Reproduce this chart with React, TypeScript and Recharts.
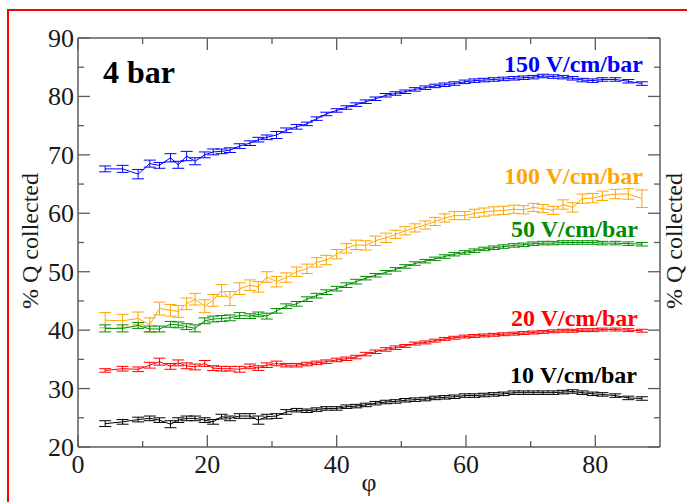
import React from 'react';
import { ComposedChart, Line, XAxis, YAxis, ErrorBar } from 'recharts';

// φ positions of the measurements
const PHI = [4.2, 6.9, 9.3, 11.1, 12.6, 14.3, 15.5, 16.8, 18.1, 19.6, 20.9, 22.2, 23.5, 25.0, 26.6, 27.9, 29.2, 30.7, 32.2, 33.8, 35.4, 36.9, 38.4, 40.0, 41.5, 43.0, 44.5, 46.0, 47.6, 49.1, 50.6, 52.1, 53.7, 55.2, 56.7, 58.2, 59.8, 61.3, 62.8, 64.3, 65.8, 67.4, 68.9, 70.4, 71.9, 73.5, 75.0, 76.5, 78.0, 79.6, 81.1, 83.1, 85.1, 87.2];

// 150 V/cm/bar
const Q150 = [67.6, 67.6, 66.7, 68.5, 68.2, 69.5, 68.3, 69.8, 68.9, 70.0, 70.5, 70.6, 70.8, 71.5, 72.0, 72.6, 73.0, 73.4, 74.2, 74.8, 75.3, 76.2, 77.0, 77.6, 78.1, 78.6, 79.1, 79.6, 80.2, 80.5, 80.8, 81.2, 81.5, 81.8, 82.0, 82.2, 82.5, 82.7, 82.8, 82.9, 83.0, 83.1, 83.2, 83.3, 83.5, 83.4, 83.3, 83.1, 82.8, 82.7, 82.9, 82.9, 82.6, 82.2];
const E150 = [0.5, 0.6, 0.8, 0.6, 0.5, 0.7, 0.6, 0.8, 0.6, 0.5, 0.5, 0.4, 0.4, 0.4, 0.4, 0.4, 0.4, 0.6, 0.4, 0.4, 0.3, 0.3, 0.3, 0.3, 0.3, 0.3, 0.3, 0.3, 0.3, 0.3, 0.3, 0.3, 0.3, 0.3, 0.3, 0.3, 0.3, 0.3, 0.3, 0.3, 0.3, 0.3, 0.3, 0.3, 0.3, 0.3, 0.3, 0.3, 0.3, 0.3, 0.3, 0.3, 0.3, 0.3];

// 100 V/cm/bar
const Q100 = [41.7, 41.6, 42.0, 40.9, 43.7, 43.4, 43.2, 44.5, 45.3, 44.1, 45.1, 46.8, 45.4, 47.1, 47.7, 47.4, 49.1, 48.3, 49.0, 50.0, 50.5, 51.6, 52.0, 53.0, 54.0, 54.6, 54.5, 55.3, 55.8, 56.4, 57.0, 57.5, 58.0, 58.6, 59.2, 59.6, 59.6, 60.0, 60.2, 60.4, 60.5, 60.7, 60.6, 61.0, 60.8, 60.5, 61.5, 61.0, 62.5, 62.6, 63.0, 63.3, 63.3, 62.5];
const E100 = [1.3, 1.1, 1.1, 1.2, 1.1, 1.0, 1.0, 1.0, 1.0, 1.1, 1.0, 1.0, 1.2, 1.0, 0.9, 0.9, 0.9, 0.9, 0.8, 0.8, 0.8, 0.8, 0.8, 0.8, 0.8, 0.8, 0.8, 0.8, 0.8, 0.7, 0.7, 0.7, 0.7, 0.7, 0.7, 0.7, 0.7, 0.7, 0.7, 0.7, 0.7, 0.7, 0.7, 0.7, 0.7, 0.7, 0.8, 0.8, 0.8, 0.8, 0.8, 0.8, 0.9, 1.5];

// 50 V/cm/bar
const Q50 = [40.3, 40.3, 40.8, 40.2, 40.2, 41.0, 40.9, 40.6, 40.3, 41.6, 41.9, 42.0, 42.1, 42.5, 42.4, 42.7, 42.4, 43.3, 44.1, 44.5, 45.3, 45.9, 46.5, 47.1, 47.7, 48.3, 48.9, 49.4, 49.9, 50.4, 50.9, 51.4, 51.8, 52.2, 52.6, 53.0, 53.3, 53.6, 53.9, 54.1, 54.3, 54.5, 54.6, 54.8, 54.9, 54.9, 55.0, 55.0, 55.0, 55.0, 54.9, 54.9, 54.8, 54.7];
const E50 = [0.6, 0.6, 0.5, 0.5, 0.5, 0.5, 0.5, 0.5, 0.6, 0.5, 0.5, 0.5, 0.5, 0.5, 0.4, 0.4, 0.5, 0.4, 0.4, 0.4, 0.4, 0.4, 0.4, 0.4, 0.4, 0.4, 0.3, 0.3, 0.3, 0.3, 0.3, 0.3, 0.3, 0.3, 0.3, 0.3, 0.3, 0.3, 0.3, 0.3, 0.3, 0.3, 0.3, 0.3, 0.3, 0.3, 0.3, 0.3, 0.3, 0.3, 0.3, 0.3, 0.3, 0.3];

// 20 V/cm/bar
const Q20 = [33.1, 33.4, 33.3, 34.0, 34.6, 33.8, 34.4, 33.9, 33.7, 34.3, 33.5, 33.4, 33.4, 33.3, 33.8, 33.5, 34.0, 34.3, 34.0, 34.0, 34.2, 34.4, 34.6, 34.9, 35.1, 35.4, 35.9, 36.3, 36.7, 37.0, 37.3, 37.7, 37.9, 38.2, 38.5, 38.7, 38.9, 39.0, 39.1, 39.2, 39.3, 39.4, 39.5, 39.6, 39.7, 39.8, 39.9, 39.9, 40.0, 40.0, 40.1, 40.1, 40.0, 39.9];
const E20 = [0.3, 0.4, 0.4, 0.5, 0.6, 0.5, 0.5, 0.5, 0.5, 0.5, 0.4, 0.4, 0.4, 0.5, 0.4, 0.4, 0.4, 0.4, 0.3, 0.3, 0.3, 0.3, 0.3, 0.3, 0.3, 0.3, 0.3, 0.3, 0.3, 0.3, 0.25, 0.25, 0.25, 0.25, 0.25, 0.25, 0.25, 0.25, 0.25, 0.25, 0.25, 0.25, 0.25, 0.25, 0.25, 0.25, 0.25, 0.25, 0.25, 0.25, 0.25, 0.25, 0.25, 0.25];

// 10 V/cm/bar
const Q10 = [24.0, 24.3, 24.7, 24.9, 24.6, 23.9, 24.6, 24.9, 24.9, 24.6, 24.3, 25.2, 24.9, 25.3, 25.3, 24.6, 25.2, 25.3, 26.0, 26.3, 26.2, 26.4, 26.6, 26.6, 26.9, 27.0, 27.2, 27.5, 27.7, 27.8, 28.0, 28.1, 28.2, 28.4, 28.5, 28.6, 28.8, 28.8, 28.9, 29.0, 29.1, 29.3, 29.3, 29.3, 29.3, 29.3, 29.4, 29.5, 29.3, 29.1, 29.0, 28.8, 28.4, 28.3];
const E10 = [0.5, 0.4, 0.4, 0.4, 0.4, 0.6, 0.4, 0.4, 0.4, 0.4, 0.4, 0.4, 0.4, 0.4, 0.4, 0.7, 0.4, 0.4, 0.4, 0.3, 0.3, 0.3, 0.3, 0.3, 0.3, 0.3, 0.3, 0.3, 0.3, 0.3, 0.3, 0.3, 0.3, 0.3, 0.3, 0.3, 0.3, 0.3, 0.3, 0.3, 0.3, 0.3, 0.3, 0.3, 0.3, 0.3, 0.3, 0.3, 0.3, 0.3, 0.3, 0.3, 0.3, 0.3];

const X_TICKS = [0, 10, 20, 30, 40, 50, 60, 70, 80];
const Y_TICKS = [20, 25, 30, 35, 40, 45, 50, 55, 60, 65, 70, 75, 80, 85, 90];

const SERIES = [
  { key: 'q150', err: 'e150', color: '#0000ff', label: '150 V/cm/bar' },
  { key: 'q100', err: 'e100', color: '#ffa500', label: '100 V/cm/bar' },
  { key: 'q50', err: 'e50', color: '#008c00', label: '50 V/cm/bar' },
  { key: 'q20', err: 'e20', color: '#ff0000', label: '20 V/cm/bar' },
  { key: 'q10', err: 'e10', color: '#000000', label: '10 V/cm/bar' },
];

const data = PHI.map((phi, i) => ({
  phi,
  q150: Q150[i], e150: E150[i],
  q100: Q100[i], e100: E100[i],
  q50: Q50[i], e50: E50[i],
  q20: Q20[i], e20: E20[i],
  q10: Q10[i], e10: E10[i],
}));

const AXIS = '#5c5c5c';
const FONT = "'Liberation Serif', 'DejaVu Serif', 'Times New Roman', Times, serif";
const TXT = '#1a1a1a';
const serif: React.CSSProperties = { fontFamily: FONT };

function BottomTick(props: any) {
  const { x, y, payload } = props;
  const v = payload.value;
  const major = v % 20 === 0;
  return (
    <g>
      <line x1={x} x2={x} y1={y} y2={y - (major ? 12 : 6)} stroke={AXIS} strokeWidth={1.3} />
      {major && (
        <text x={x} y={y + 26} textAnchor="middle" style={serif} fontSize={26} fill={TXT}>{v}</text>
      )}
    </g>
  );
}

function TopTick(props: any) {
  const { x, y, payload } = props;
  const major = payload.value % 20 === 0;
  return <line x1={x} x2={x} y1={y} y2={y + (major ? 12 : 6)} stroke={AXIS} strokeWidth={1.3} />;
}

function LeftTick(props: any) {
  const { x, y, payload } = props;
  const v = payload.value;
  const major = v % 10 === 0;
  return (
    <g>
      <line x1={x} x2={x + (major ? 12 : 6)} y1={y} y2={y} stroke={AXIS} strokeWidth={1.3} />
      {major && (
        <text x={x - 4} y={y + 9} textAnchor="end" style={serif} fontSize={26} fill={TXT}>{v}</text>
      )}
    </g>
  );
}

function RightTick(props: any) {
  const { x, y, payload } = props;
  const major = payload.value % 10 === 0;
  return <line x1={x} x2={x - (major ? 12 : 6)} y1={y} y2={y} stroke={AXIS} strokeWidth={1.3} />;
}

export default function App() {
  return (
    <div style={{ position: 'absolute', left: 0, top: 0, width: 687, height: 502, overflow: 'hidden', background: '#fff', fontFamily: FONT }}>
      <div style={{ position: 'absolute', left: 7, top: 9, width: 680, height: 493, borderTop: '2px solid #ff0000', borderLeft: '2px solid #ff0000', boxSizing: 'border-box' }} />
      <div style={{ position: 'absolute', left: 0, top: 0 }}>
        <ComposedChart width={687} height={502} data={data} margin={{ top: 37, right: 0, bottom: 25, left: 0 }}>
          <XAxis xAxisId="b" type="number" dataKey="phi" domain={[0, 90]} ticks={X_TICKS} orientation="bottom" height={30}
            tickSize={0} tickMargin={0} tickLine={false} tick={<BottomTick />} axisLine={{ stroke: AXIS, strokeWidth: 1.5 }} interval={0} allowDataOverflow />
          <XAxis xAxisId="t" type="number" dataKey="phi" domain={[0, 90]} ticks={X_TICKS} orientation="top" height={1}
            tickSize={0} tickMargin={0} tickLine={false} tick={<TopTick />} axisLine={{ stroke: AXIS, strokeWidth: 1.5 }} interval={0} allowDataOverflow />
          <YAxis yAxisId="l" type="number" domain={[20, 90]} ticks={Y_TICKS} orientation="left" width={78}
            tickSize={0} tickMargin={0} tickLine={false} tick={<LeftTick />} axisLine={{ stroke: AXIS, strokeWidth: 1.5 }} interval={0} allowDataOverflow />
          <YAxis yAxisId="r" type="number" domain={[20, 90]} ticks={Y_TICKS} orientation="right" width={27}
            tickSize={0} tickMargin={0} tickLine={false} tick={<RightTick />} axisLine={{ stroke: AXIS, strokeWidth: 1.5 }} interval={0} allowDataOverflow />
          {SERIES.map((s) => (
            <Line key={s.key} xAxisId="b" yAxisId="l" type="linear" dataKey={s.key} stroke={s.color} strokeWidth={1}
              dot={false} activeDot={false} isAnimationActive={false}>
              <ErrorBar dataKey={s.err} direction="y" width={6} stroke={s.color} strokeWidth={1} isAnimationActive={false} />
            </Line>
          ))}
        </ComposedChart>
      </div>
      <svg width={687} height={502} style={{ position: 'absolute', left: 0, top: 0, pointerEvents: 'none', fontFamily: FONT }}>
        <text x={103} y={83} style={serif} fontSize={32} fontWeight="bold" fill="#000">4 bar</text>
        <text x={643} y={72} textAnchor="end" style={serif} fontSize={24} fontWeight="bold" fill={SERIES[0].color}>{SERIES[0].label}</text>
        <text x={643} y={184} textAnchor="end" style={serif} fontSize={24} fontWeight="bold" fill={SERIES[1].color}>{SERIES[1].label}</text>
        <text x={638} y={237} textAnchor="end" style={serif} fontSize={24} fontWeight="bold" fill={SERIES[2].color}>{SERIES[2].label}</text>
        <text x={638} y={326} textAnchor="end" style={serif} fontSize={24} fontWeight="bold" fill={SERIES[3].color}>{SERIES[3].label}</text>
        <text x={637} y={383} textAnchor="end" style={serif} fontSize={24} fontWeight="bold" fill={SERIES[4].color}>{SERIES[4].label}</text>
        <text x={0} y={0} transform="translate(38,241) rotate(-90)" textAnchor="middle" style={serif} fontSize={24} fill={TXT}>% Q  collected</text>
        <text x={0} y={0} transform="translate(682,241) rotate(-90)" textAnchor="middle" style={serif} fontSize={24} fill={TXT}>% Q  collected</text>
        <text x={369} y={491} textAnchor="middle" style={serif} fontSize={26} fill={TXT}>φ</text>
      </svg>
    </div>
  );
}
